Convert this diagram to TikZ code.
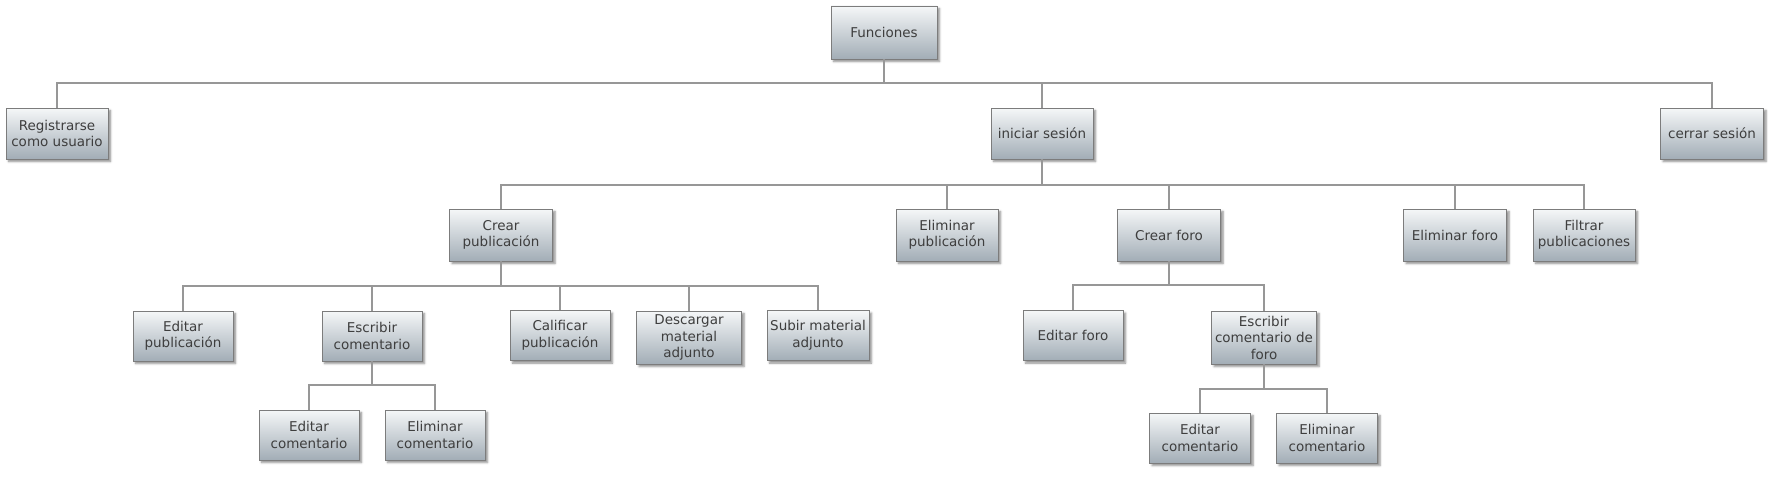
\documentclass[tikz,border=0pt]{standalone}
\usepackage{fontspec}
\setmainfont{DejaVu Sans}
\usetikzlibrary{shadows.blur}
\definecolor{boxtop}{HTML}{F5F7F8}
\definecolor{boxbot}{HTML}{A2ADB6}
\definecolor{boxline}{HTML}{7C7C7C}
\definecolor{txt}{HTML}{3E3E3E}
\definecolor{conn}{HTML}{979797}
\tikzset{
  fbox/.style={draw=boxline, line width=0.7pt, top color=boxtop, bottom color=boxbot,
    minimum width=102pt, minimum height=51pt, inner sep=1pt, align=center,
    text=txt, font=\fontsize{13.5}{16.5}\selectfont,
    blur shadow={shadow xshift=2.5pt, shadow yshift=-2.5pt, shadow blur steps=5, shadow opacity=45}},
  link/.style={draw=conn, line width=2pt}
}
\begin{document}
\begin{tikzpicture}[x=1pt,y=-1pt]
\useasboundingbox (0,0) rectangle (1773,495);
% level 0
\node[fbox, minimum width=106pt, minimum height=53pt] (fun) at (884,32.5) {Funciones};
% level 1
\node[fbox] (reg) at (57,133.5) {Registrarse\\como usuario};
\node[fbox] (ini) at (1042,133.5) {iniciar sesión};
\node[fbox, minimum width=103pt] (cer) at (1712,133.5) {cerrar sesión};
% level 2
\node[fbox, minimum width=103pt, minimum height=52pt] (crp) at (501,235) {Crear\\publicación};
\node[fbox, minimum height=52pt] (elp) at (947,235) {Eliminar\\publicación};
\node[fbox, minimum width=103pt, minimum height=52pt] (crf) at (1169,235) {Crear foro};
\node[fbox, minimum width=103pt, minimum height=52pt] (elf) at (1455,235) {Eliminar foro};
\node[fbox, minimum height=52pt] (fil) at (1584,235) {Filtrar\\publicaciones};
% level 3
\node[fbox, minimum width=100pt, minimum height=50pt] (edp) at (183,336) {Editar\\publicación};
\node[fbox, minimum width=100pt, minimum height=50pt] (esc) at (372,336) {Escribir\\comentario};
\node[fbox, minimum width=100pt, minimum height=50pt] (cal) at (560,335.5) {Calificar\\publicación};
\node[fbox, minimum width=105pt, minimum height=53pt] (des) at (689,337.5) {Descargar\\material\\adjunto};
\node[fbox, minimum width=102pt, minimum height=50pt] (sub) at (818,335.5) {Subir material\\adjunto};
\node[fbox, minimum width=100pt, minimum height=50pt] (edf) at (1073,335.5) {Editar foro};
\node[fbox, minimum width=105pt, minimum height=53pt] (ecf) at (1264,337.5) {Escribir\\comentario de\\foro};
% level 4
\node[fbox, minimum width=100pt, minimum height=50pt] (edc) at (309,435) {Editar\\comentario};
\node[fbox, minimum width=100pt, minimum height=50pt] (elc) at (435,435) {Eliminar\\comentario};
\node[fbox, minimum width=101pt, minimum height=50pt] (edcf) at (1200,438) {Editar\\comentario};
\node[fbox, minimum width=101pt, minimum height=50pt] (elcf) at (1327,438) {Eliminar\\comentario};
% bus levels
\coordinate (b1) at (0,83);
\coordinate (b2) at (0,185);
\coordinate (b3) at (0,286);
\coordinate (b3f) at (0,285);
\coordinate (b4) at (0,385);
\coordinate (b4f) at (0,389);
% connectors
\draw[link] (fun.south) -- (fun.south |- b1);
\foreach \c in {reg,ini,cer} \draw[link] (\c.north) |- (fun.south |- b1);
\draw[link] (ini.south) -- (ini.south |- b2);
\foreach \c in {crp,elp,crf,elf,fil} \draw[link] (\c.north) |- (ini.south |- b2);
\draw[link] (crp.south) -- (crp.south |- b3);
\foreach \c in {edp,esc,cal,des,sub} \draw[link] (\c.north) |- (crp.south |- b3);
\draw[link] (crf.south) -- (crf.south |- b3f);
\foreach \c in {edf,ecf} \draw[link] (\c.north) |- (crf.south |- b3f);
\draw[link] (esc.south) -- (esc.south |- b4);
\foreach \c in {edc,elc} \draw[link] (\c.north) |- (esc.south |- b4);
\draw[link] (ecf.south) -- (ecf.south |- b4f);
\foreach \c in {edcf,elcf} \draw[link] (\c.north) |- (ecf.south |- b4f);
\end{tikzpicture}
\end{document}
